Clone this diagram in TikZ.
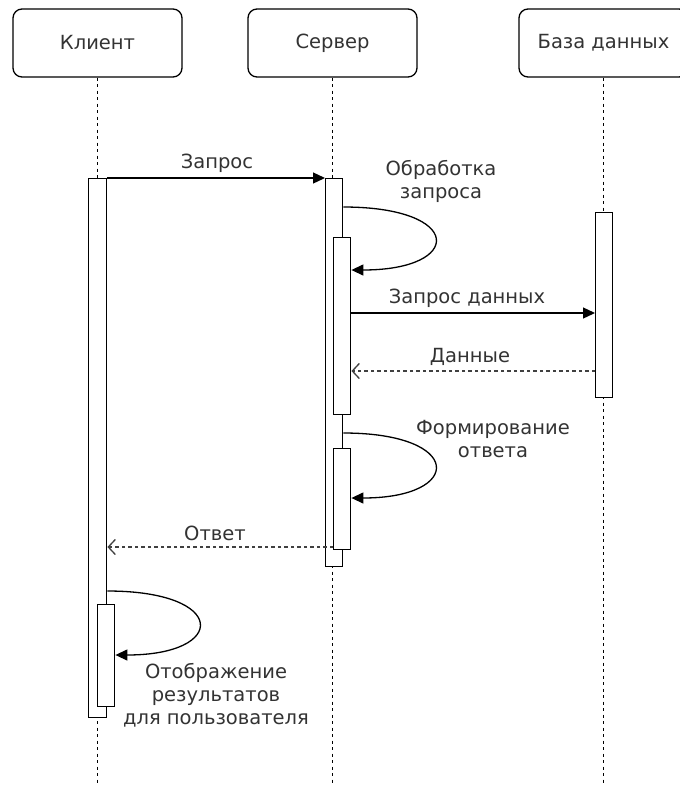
\documentclass[tikz,border=0pt]{standalone}
\usepackage{fontspec}
\setmainfont{DejaVu Sans}
\usetikzlibrary{arrows.meta}
\begin{document}
\begin{tikzpicture}[x=1pt,y=-1pt,
  every node/.style={font=\fontsize{19.5}{23}\selectfont, text=black!80},
  header/.style={draw=black, text=black!80, rounded corners=9pt, line width=1.3pt, minimum width=169pt, minimum height=68pt, inner sep=0pt},
  lifeline/.style={draw=black, line width=1.1pt, dash pattern=on 3pt off 3.5pt},
  bar/.style={draw=black, fill=white, line width=1.4pt, minimum width=17pt, inner sep=0pt, anchor=north west},
  msg/.style={draw=black, line width=1.3pt, -{Triangle[length=12pt,width=11pt]}},
  ret/.style={draw=black!75, line width=1.3pt, dash pattern=on 3.5pt off 3pt, -{Straight Barb[length=7pt,width=15pt]}},
  lbl/.style={align=center, inner sep=0pt}
]
\useasboundingbox (0,0) rectangle (680,785);
\clip (0,0) rectangle (680,785);
\fill[white] (0,0) rectangle (680,785);

% headers
\node[header] (client) at (97.5,43) {Клиент};
\node[header] (server) at (332.5,43) {Сервер};
\node[header] (db) at (603.5,43) {База данных};

% lifeline ends
\coordinate (cend) at (97,785);
\coordinate (send) at (333,785);
\coordinate (dend) at (603.5,785);
\draw[lifeline] (client.south) -- (client.south |- cend);
\draw[lifeline] (server.south) -- (server.south |- send);
\draw[lifeline] (db.south) -- (db.south |- dend);

% activation bars
\node[bar, minimum width=18pt, minimum height=539pt] (cbar) at (88,178) {};
\node[bar, minimum height=388pt] (sbar) at (325,178) {};
\node[bar, minimum height=177pt] (sn1) at (333,237) {};
\node[bar, minimum height=101pt] (sn2) at (333,448) {};
\node[bar, minimum height=185pt] (dbbar) at (595,212) {};
\node[bar, minimum height=102pt] (cn) at (97,604) {};

% message levels
\coordinate (y1s) at (0,207);
\coordinate (y1e) at (0,270);
\coordinate (y2) at (0,313);
\coordinate (y3) at (0,371);
\coordinate (y4s) at (0,433);
\coordinate (y4e) at (0,498);
\coordinate (y5) at (0,547);
\coordinate (y6s) at (0,591);
\coordinate (y6e) at (0,655);

% Запрос
\draw[msg] (cbar.north east) -- (sbar.north west);
\node[lbl] (l1) at (217,163) {Запрос};

% self loop 1
\draw[msg] (sbar.east |- y1s) .. controls (464,207) and (464,270) .. (sn1.east |- y1e);
\node[lbl] (l2) at (441,181.5) {Обработка\\запроса};

% Запрос данных
\draw[msg] (sn1.east |- y2) -- (dbbar.west |- y2);
\node[lbl] (l3) at (467,298) {Запрос данных};

% Данные
\draw[ret] (dbbar.west |- y3) -- (sn1.east |- y3);
\node[lbl] (l4) at (470,357) {Данные};

% self loop 2
\draw[msg] (sbar.east |- y4s) .. controls (464,433) and (464,498) .. (sn2.east |- y4e);
\node[lbl] (l5) at (493,439.5) {Формирование\\ответа};

% Ответ
\draw[ret] (sn2.west |- y5) -- (cbar.east |- y5);
\node[lbl] (l6) at (215,533) {Ответ};

% self loop 3
\draw[msg] (cbar.east |- y6s) .. controls (228,591) and (228,655) .. (cn.east |- y6e);
\node[lbl] (l7) at (216,695) {Отображение\\результатов\\для пользователя};
\end{tikzpicture}
\end{document}
